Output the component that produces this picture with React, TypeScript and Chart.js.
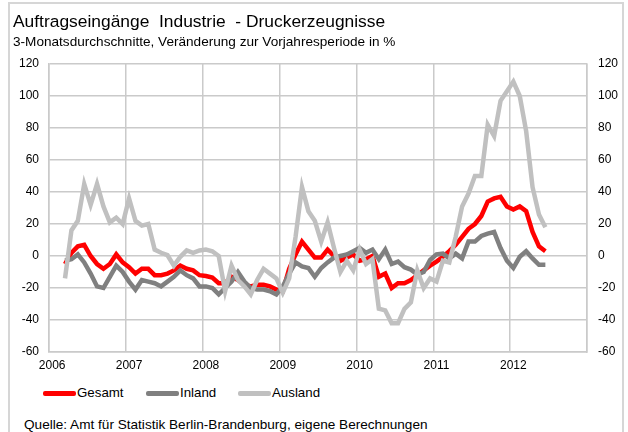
import React, { useEffect, useRef } from 'react';
import { Chart, registerables } from 'chart.js';

Chart.register(...registerables);

// months counted from January 2006 (0 = Jan 2006)
const FIRST_MONTH = 2; // first 3-month average: March 2006
const AXIS_MONTHS = 84; // 2006..2012
const yearLabels = ['2006', '2007', '2008', '2009', '2010', '2011', '2012'];

const gesamt = [
  -5, 2, 6, 7, 0, -5, -8, -5, 1, -4,
  -7, -11, -8, -8, -12, -12, -11, -9, -6, -8, -9, -12,
  -12.5, -13.5, -17, -17, -13, -15, -18, -19, -18, -18, -19, -21,
  -22, -8, 1, 9, 4, -1, -1, 4, 0, -3, -1, 1,
  -3, -2, 0, -13, -11, -20, -17, -17, -15, -12, -9, -6,
  -3.5, -0.5, 3, 7, 12, 17, 20, 25, 34, 36, 37, 31,
  29, 31, 28, 15, 6, 3,
];

const inland = [
  -3, -2, 1, -4, -11, -19, -20, -13, -6, -10,
  -16, -21, -15, -16, -17, -19, -16, -13, -9, -12, -14, -19,
  -19, -20, -24, -20, -16, -10, -16, -20, -21, -21, -22, -24,
  -19, -11, -4, -6.5, -7.5, -13, -7.5, -4, -1, 0, 1, 3,
  5, 2, 4, -2, 4, -5, -3.5, -7, -8.5, -11.5, -10, -2.5,
  1, 1.5, -1.5, 1.5, -1.5, 9, 9, 12.5, 14, 15, 5, -3,
  -7.5, -0.5, 3, -1.5, -5.5, -5.5,
];

const ausland = [
  -14, 16, 22, 45, 32, 45, 31, 21, 24, 20,
  36, 22, 19, 20, 4, 2, 0.5, -6, -0.5, 3.5, 2, 3.5,
  4, 3, 0, -22, -6, -15, -19, -24, -15, -8, -11, -14,
  -23, -14, 12, 43, 28, 22, 9, 21, 5, -10, -3, -9,
  4, -5, -2, -33, -34, -42, -42, -33, -29, -9, -20, -14,
  -16, -3, -4, 12, 31, 39, 50, 50, 82, 75, 97, 103,
  109, 100, 78, 43, 26, 18,
];

const seriesNames = ['Gesamt', 'Inland', 'Ausland'];
const seriesColors = ['#ff0000', '#808080', '#c0c0c0'];
const seriesValues = [gesamt, inland, ausland];

const Y_MIN = -60;
const Y_MAX = 120;
const Y_STEP = 20;

const FONT = '"Liberation Sans", Arial, sans-serif';
const GRID = '#cacaca';

function toPoints(vals: number[]) {
  return vals.map((v, i) => ({ x: FIRST_MONTH + i + 0.5, y: v }));
}

export default function App() {
  const ref = useRef<HTMLCanvasElement | null>(null);

  useEffect(() => {
    if (!ref.current) return;
    const yTicks = {
      color: '#000',
      font: { family: FONT, size: 12 },
      stepSize: Y_STEP,
    };
    const chart = new Chart(ref.current, {
      type: 'line',
      data: {
        datasets: seriesValues.map((vals, i) => ({
          label: seriesNames[i],
          data: toPoints(vals),
          borderColor: seriesColors[i],
          backgroundColor: seriesColors[i],
          borderWidth: 4.5,
          pointRadius: 0,
          tension: 0,
          fill: false,
          order: 2 - i,
        })),
      },
      options: {
        responsive: false,
        animation: false,
        events: [],
        layout: { padding: { top: 64, left: 0, right: 0, bottom: 0 } },
        plugins: {
          legend: { display: false },
          tooltip: { enabled: false },
          title: { display: false },
        },
        scales: {
          x: {
            type: 'linear',
            min: 0,
            max: AXIS_MONTHS,
            afterFit: (s: any) => {
              s.height = 28;
            },
            afterBuildTicks: (s: any) => {
              const t = [];
              for (let v = 0; v <= AXIS_MONTHS; v += 12) t.push({ value: v });
              s.ticks = t;
            },
            ticks: {
              color: '#000',
              font: { family: FONT, size: 12 },
              padding: 6,
              labelOffset: 3.2,
              maxRotation: 0,
              autoSkip: false,
              callback: (v: any) => {
                const idx = Math.round(Number(v) / 12);
                return yearLabels[idx] ?? '';
              },
            },
            grid: { color: GRID, lineWidth: 1.5, drawTicks: false },
            border: { display: true, color: GRID, width: 1.5 },
          },
          y: {
            position: 'left',
            min: Y_MIN,
            max: Y_MAX,
            afterFit: (s: any) => {
              s.width = 49;
            },
            ticks: { ...yTicks, padding: 10 },
            grid: { color: GRID, lineWidth: 1.5, drawTicks: false },
            border: { display: true, color: GRID, width: 1.5 },
          },
          y2: {
            position: 'right',
            min: Y_MIN,
            max: Y_MAX,
            afterFit: (s: any) => {
              s.width = 41;
            },
            ticks: { ...yTicks, padding: 11 },
            grid: { drawOnChartArea: false, drawTicks: false },
            border: { display: true, color: GRID, width: 1.5 },
          },
        },
      },
    } as any);
    return () => chart.destroy();
  }, []);

  const legendLeft = [43, 146, 238];

  return (
    <div
      style={{
        position: 'fixed',
        left: 0,
        top: 0,
        width: 628,
        height: 432,
        overflow: 'hidden',
        background: '#fff',
        fontFamily: FONT,
        color: '#000',
      }}
    >
      <div
        style={{
          position: 'absolute',
          left: 8,
          top: 2,
          width: 612,
          height: 460,
          border: '2px solid #d6d6d6',
        }}
      />
      <canvas
        ref={ref}
        width={628}
        height={380}
        style={{ position: 'absolute', left: 0, top: 0, width: 628, height: 380 }}
      />
      <div
        style={{
          position: 'absolute',
          left: 13,
          top: 12,
          fontSize: 17.4,
          lineHeight: '18px',
          whiteSpace: 'nowrap',
        }}
      >
        Auftragseingänge&nbsp; Industrie&nbsp; - Druckerzeugnisse
      </div>
      <div
        style={{
          position: 'absolute',
          left: 13,
          top: 35,
          fontSize: 13.6,
          lineHeight: '13px',
          whiteSpace: 'nowrap',
        }}
      >
        3-Monatsdurchschnitte, Veränderung zur Vorjahresperiode in %
      </div>
      {seriesNames.map((name, i) => (
        <div
          key={name}
          style={{
            position: 'absolute',
            left: legendLeft[i],
            top: 386,
            height: 14,
            display: 'flex',
            alignItems: 'center',
            fontSize: 13.3,
            lineHeight: '14px',
            whiteSpace: 'nowrap',
          }}
        >
          <span
            style={{
              display: 'inline-block',
              width: 33,
              height: 5,
              borderRadius: 2,
              background: seriesColors[i],
              marginRight: 1,
            }}
          />
          <span>{name}</span>
        </div>
      ))}
      <div
        style={{
          position: 'absolute',
          left: 24,
          top: 418,
          fontSize: 13.6,
          lineHeight: '14px',
          whiteSpace: 'nowrap',
        }}
      >
        Quelle: Amt für Statistik Berlin-Brandenburg, eigene Berechnungen
      </div>
    </div>
  );
}
